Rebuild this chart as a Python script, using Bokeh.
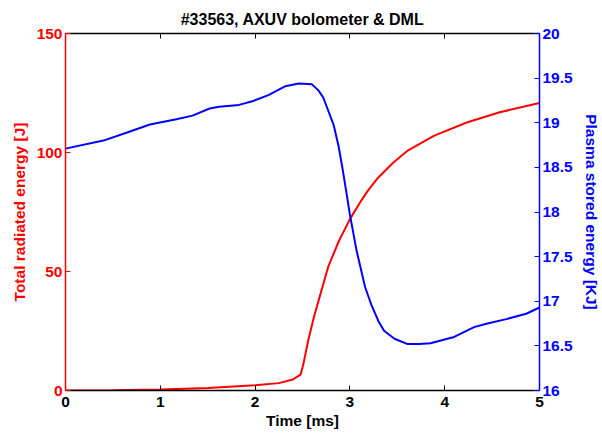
from bokeh.plotting import figure
from bokeh.models import Range1d, LinearAxis, FixedTicker
from bokeh.embed import file_html
from bokeh.resources import INLINE

# Total radiated energy [J] (AXUV bolometer)
time_rad = [0, 0.5, 1.0, 1.5, 2.0, 2.25, 2.39, 2.48, 2.51, 2.56, 2.62, 2.69, 2.77, 2.88,
            3.0, 3.12, 3.19, 3.3, 3.45, 3.61, 3.89, 4.24, 4.58, 5.0]
energy_rad = [0, 0.1, 0.4, 1.0, 2.2, 3.1, 4.5, 6.7, 11.2, 21, 30.8, 40.6, 51.8, 62.5,
              72, 79.8, 84, 89.5, 95.5, 100.8, 107.1, 112.7, 116.9, 120.8]

# Plasma stored energy [kJ] (DML)
time_dml = [0, 0.4, 0.65, 0.89, 1.17, 1.34, 1.52, 1.62, 1.83, 1.97, 2.14, 2.32, 2.46,
            2.6, 2.67, 2.72, 2.77, 2.83, 2.88, 2.92, 2.96, 3.0, 3.07, 3.16, 3.23, 3.3,
            3.36, 3.47, 3.61, 3.73, 3.85, 4.1, 4.31, 4.45, 4.65, 4.86, 5.0]
energy_dml = [18.71, 18.80, 18.89, 18.98, 19.04, 19.08, 19.16, 19.18, 19.20, 19.24, 19.31,
              19.41, 19.44, 19.43, 19.36, 19.28, 19.14, 18.97, 18.74, 18.50, 18.24, 17.97,
              17.57, 17.16, 16.95, 16.78, 16.67, 16.58, 16.52, 16.52, 16.53, 16.60, 16.71,
              16.75, 16.80, 16.86, 16.93]

x_ticks = [0, 1, 2, 3, 4, 5]
left_ticks = [0, 50, 100, 150]
right_ticks = [16, 16.5, 17, 17.5, 18, 18.5, 19, 19.5, 20]
right_labels = ["16", "16.5", "17", "17.5", "18", "18.5", "19", "19.5", "20"]

FONT = "Liberation Sans"
FS = "15.5px"
RED = "#ff0000"
BLUE = "#0000ff"

p = figure(width=602, height=434, output_backend="svg", toolbar_location=None,
           x_range=Range1d(0, 5), y_range=Range1d(0, 150),
           min_border_left=65, min_border_right=59, min_border_top=33, min_border_bottom=44)
p.extra_y_ranges = {"dml": Range1d(16, 20)}
p.grid.visible = False
p.outline_line_color = None
p.background_fill_color = "white"
p.border_fill_color = "white"

p.title.text = "#33563, AXUV bolometer & DML"
p.title.align = "center"
p.title.text_font = FONT
p.title.text_font_size = "16px"
p.title.text_font_style = "bold"
p.title.text_color = "black"
p.title.standoff = 11

def style(ax, color, ticks):
    ax.ticker = FixedTicker(ticks=ticks)
    ax.minor_tick_line_color = None
    ax.major_tick_in = 5
    ax.major_tick_out = 0
    ax.axis_line_color = color
    ax.major_tick_line_color = color
    ax.axis_line_width = 1.5
    ax.major_label_text_color = color
    ax.major_label_text_font = FONT
    ax.major_label_text_font_size = FS
    ax.major_label_text_font_style = "bold"
    ax.axis_label_text_color = color
    ax.axis_label_text_font = FONT
    ax.axis_label_text_font_size = FS
    ax.axis_label_text_font_style = "bold"
    ax.major_label_standoff = 3

xa = p.xaxis[0]
style(xa, "black", x_ticks)
xa.axis_label = "Time [ms]"
xa.major_label_standoff = 6
xa.axis_label_standoff = 2

ya = p.yaxis[0]
style(ya, RED, left_ticks)
ya.axis_label = "Total radiated energy [J]"
ya.axis_label_standoff = 6

ra = LinearAxis(y_range_name="dml")
style(ra, BLUE, right_ticks)
ra.major_label_overrides = {t: s for t, s in zip(right_ticks, right_labels)}
ra.axis_label = "Plasma stored energy [KJ]"
ra.axis_label_standoff = 7
p.add_layout(ra, "right")

ta = LinearAxis()
style(ta, "black", x_ticks)
ta.major_label_text_font_size = "1px"
ta.major_label_text_color = None
ta.major_label_standoff = 0
p.add_layout(ta, "above")

p.line(time_rad, energy_rad, line_color=RED, line_width=2)
p.line(time_dml, energy_dml, line_color=BLUE, line_width=2, y_range_name="dml")

open("out.html", "w").write(file_html(p, INLINE))
